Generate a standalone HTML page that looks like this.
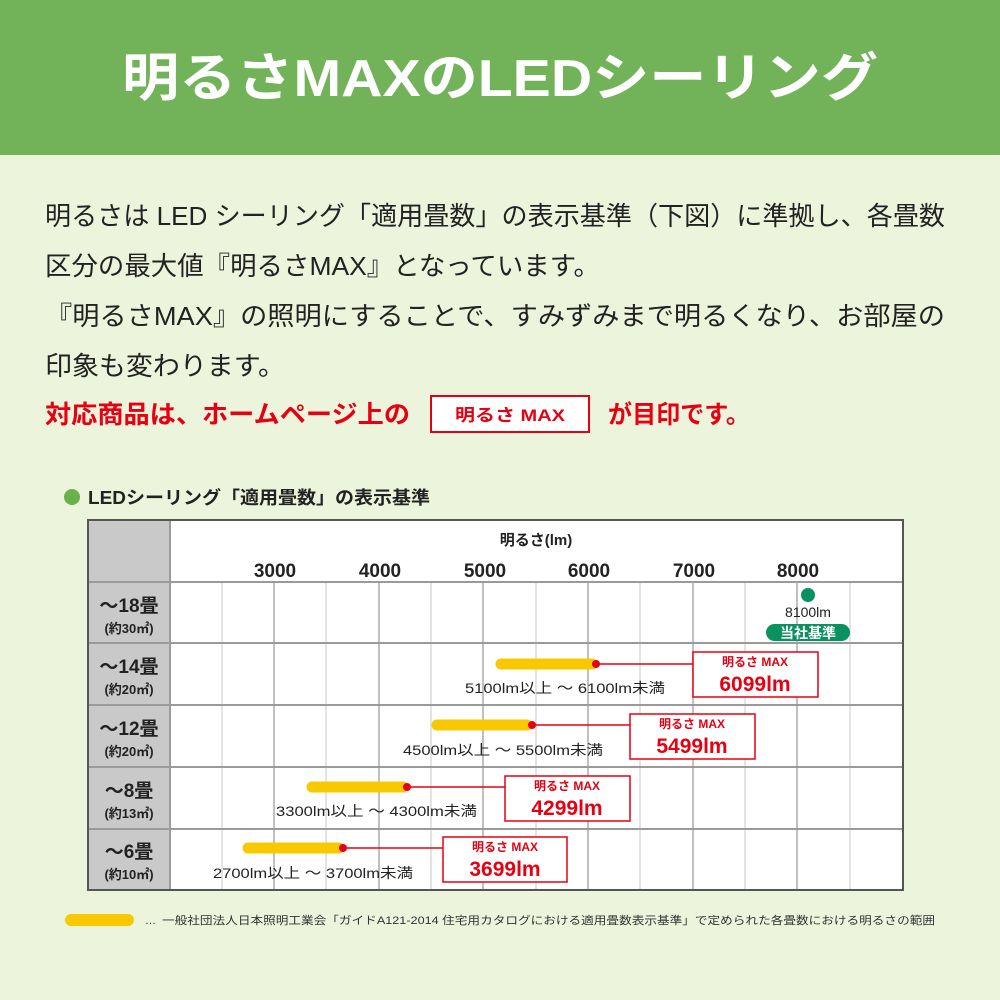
<!DOCTYPE html>
<html><head><meta charset="utf-8"><style>
html,body{margin:0;padding:0;width:1000px;height:1000px;overflow:hidden;background:#edf4dc}
svg{display:block}
text{font-family:"Liberation Sans","Noto Sans CJK JP",sans-serif}
</style></head><body>
<svg width="1000" height="1000" viewBox="0 0 1000 1000" xmlns="http://www.w3.org/2000/svg">
<rect x="0" y="0" width="1000" height="1000" fill="#edf4dc"/>
<rect x="0" y="0" width="1000" height="155" fill="#72b35a"/>
<text x="122" y="96" font-size="52" font-weight="bold" fill="#fff" textLength="756" lengthAdjust="spacingAndGlyphs">明るさMAXのLEDシーリング</text>

<g font-size="26" fill="#222">
<text x="45" y="225" textLength="900" lengthAdjust="spacingAndGlyphs">明るさは LED シーリング「適用畳数」の表示基準（下図）に準拠し、各畳数</text>
<text x="45" y="275" textLength="555" lengthAdjust="spacingAndGlyphs">区分の最大値『明るさMAX』となっています。</text>
<text x="45" y="325" textLength="900" lengthAdjust="spacingAndGlyphs">『明るさMAX』の照明にすることで、すみずみまで明るくなり、お部屋の</text>
<text x="45" y="375" textLength="240" lengthAdjust="spacingAndGlyphs">印象も変わります。</text>
</g>
<g font-weight="bold" fill="#e60012">
<text x="45" y="423" font-size="25" textLength="365" lengthAdjust="spacingAndGlyphs">対応商品は、ホームページ上の</text>
<text x="608" y="423" font-size="25" textLength="142" lengthAdjust="spacingAndGlyphs">が目印です。</text>
</g>
<rect x="431" y="396" width="158" height="36" fill="#fff" stroke="#e60012" stroke-width="2"/>
<text x="455" y="421" font-size="17" font-weight="bold" fill="#e60012" textLength="110" lengthAdjust="spacingAndGlyphs">明るさ MAX</text>

<circle cx="72" cy="497" r="8" fill="#6ab04c"/>
<text x="88" y="504" font-size="18" font-weight="bold" fill="#222" textLength="342" lengthAdjust="spacingAndGlyphs">LEDシーリング「適用畳数」の表示基準</text>

<!-- table -->
<rect x="88" y="520" width="815" height="370" fill="#fff"/>
<rect x="88" y="520" width="82" height="370" fill="#c9c9c9"/>
<g stroke="#d0d0d0" stroke-width="1.2">
<line x1="222" y1="582" x2="222" y2="890"/><line x1="326" y1="582" x2="326" y2="890"/>
<line x1="431" y1="582" x2="431" y2="890"/><line x1="536" y1="582" x2="536" y2="890"/>
<line x1="640" y1="582" x2="640" y2="890"/><line x1="745" y1="582" x2="745" y2="890"/>
<line x1="850" y1="582" x2="850" y2="890"/>
</g>
<g stroke="#b0b0b0" stroke-width="1.6">
<line x1="274" y1="582" x2="274" y2="890"/><line x1="379" y1="582" x2="379" y2="890"/>
<line x1="483" y1="582" x2="483" y2="890"/><line x1="588" y1="582" x2="588" y2="890"/>
<line x1="693" y1="582" x2="693" y2="890"/><line x1="797" y1="582" x2="797" y2="890"/>
</g>
<g stroke="#9a9a9a" stroke-width="2">
<line x1="88" y1="582" x2="903" y2="582"/><line x1="88" y1="643" x2="903" y2="643"/>
<line x1="88" y1="705" x2="903" y2="705"/><line x1="88" y1="767" x2="903" y2="767"/>
<line x1="88" y1="829" x2="903" y2="829"/>
<line x1="170" y1="520" x2="170" y2="890"/>
</g>
<rect x="88" y="520" width="815" height="370" fill="none" stroke="#555" stroke-width="2"/>

<text x="536" y="545" font-size="15" font-weight="bold" fill="#222" text-anchor="middle">明るさ(lm)</text>
<g font-size="19" font-weight="bold" fill="#222" text-anchor="middle">
<text x="275" y="577">3000</text><text x="380" y="577">4000</text><text x="485" y="577">5000</text>
<text x="589" y="577">6000</text><text x="694" y="577">7000</text><text x="798" y="577">8000</text>
</g>

<g fill="#222" font-weight="bold" text-anchor="middle">
<text x="129" y="612" font-size="19">～18畳</text><text x="129" y="633" font-size="13">(約30㎡)</text>
<text x="129" y="673" font-size="19">～14畳</text><text x="129" y="694" font-size="13">(約20㎡)</text>
<text x="129" y="735" font-size="19">～12畳</text><text x="129" y="756" font-size="13">(約20㎡)</text>
<text x="129" y="797" font-size="19">～8畳</text><text x="129" y="818" font-size="13">(約13㎡)</text>
<text x="129" y="858" font-size="19">～6畳</text><text x="129" y="879" font-size="13">(約10㎡)</text>
</g>

<!-- 18 -->
<circle cx="808" cy="595" r="7" fill="#0a9160"/>
<text x="808" y="617" font-size="14" fill="#222" text-anchor="middle">8100lm</text>
<rect x="766" y="624" width="84" height="17" rx="8.5" fill="#0a9160"/>
<text x="808" y="638" font-size="14" font-weight="bold" fill="#fff" text-anchor="middle">当社基準</text>

<g stroke="#f8c800" stroke-width="11" stroke-linecap="round">
<line x1="501" y1="664" x2="592" y2="664"/>
<line x1="437" y1="725" x2="527" y2="725"/>
<line x1="312" y1="787" x2="403" y2="787"/>
<line x1="248" y1="848" x2="339" y2="848"/>
</g>
<g stroke="#e60012" stroke-width="1.5">
<line x1="596" y1="664" x2="693" y2="664"/>
<line x1="532" y1="725" x2="630" y2="725"/>
<line x1="407" y1="787" x2="505" y2="787"/>
<line x1="343" y1="848" x2="443" y2="848"/>
</g>
<g fill="#e60012">
<circle cx="596" cy="664" r="4"/><circle cx="532" cy="725" r="4"/>
<circle cx="407" cy="787" r="4"/><circle cx="343" cy="848" r="4"/>
</g>
<g font-size="14" fill="#222">
<text x="465" y="693" textLength="200" lengthAdjust="spacingAndGlyphs">5100lm以上 ～ 6100lm未満</text>
<text x="403" y="755" textLength="200" lengthAdjust="spacingAndGlyphs">4500lm以上 ～ 5500lm未満</text>
<text x="276" y="816" textLength="201" lengthAdjust="spacingAndGlyphs">3300lm以上 ～ 4300lm未満</text>
<text x="213" y="878" textLength="200" lengthAdjust="spacingAndGlyphs">2700lm以上 ～ 3700lm未満</text>
</g>
<g fill="#fff" stroke="#e60012" stroke-width="1.5">
<rect x="693" y="652" width="125" height="45"/>
<rect x="630" y="714" width="125" height="45"/>
<rect x="505" y="776" width="125" height="45"/>
<rect x="443" y="837" width="124" height="45"/>
</g>
<g fill="#e60012" font-weight="bold" text-anchor="middle">
<text x="755" y="666" font-size="12">明るさ MAX</text><text x="755" y="691" font-size="21">6099lm</text>
<text x="692" y="728" font-size="12">明るさ MAX</text><text x="692" y="753" font-size="21">5499lm</text>
<text x="567" y="790" font-size="12">明るさ MAX</text><text x="567" y="815" font-size="21">4299lm</text>
<text x="505" y="851" font-size="12">明るさ MAX</text><text x="505" y="876" font-size="21">3699lm</text>
</g>

<line x1="71" y1="920" x2="128" y2="920" stroke="#f8c800" stroke-width="12" stroke-linecap="round"/>
<text x="145" y="924" font-size="11" fill="#333">…</text>
<text x="162" y="924" font-size="11" fill="#333" textLength="773" lengthAdjust="spacingAndGlyphs">一般社団法人日本照明工業会「ガイドA121-2014 住宅用カタログにおける適用畳数表示基準」で定められた各畳数における明るさの範囲</text>
</svg>
</body></html>
